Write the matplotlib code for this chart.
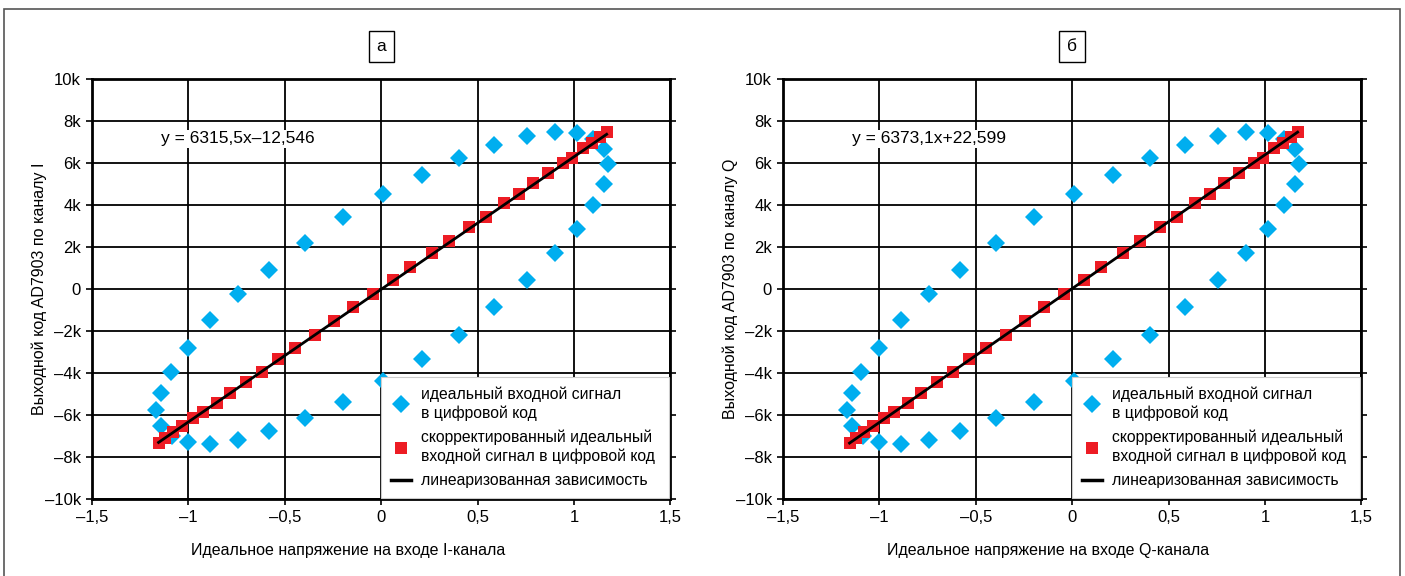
import matplotlib
matplotlib.use("Agg")
import matplotlib.pyplot as plt
from matplotlib.lines import Line2D
from matplotlib.patches import Rectangle

plt.rcParams['font.family'] = ['Liberation Sans', 'DejaVu Sans']

# Data, y in codes
ideal_x = [-1.166, -1.141, -1.093, -1.0, -0.886, -0.743, -0.581, -0.394, -0.197, 0.008,
           0.209, 0.404, 0.587, 0.758, 0.899, 1.014, 1.10, 1.156, 1.176,
           1.156, 1.10, 1.014, 0.899, 0.758, 0.587, 0.404, 0.209, 0.008, -0.197,
           -0.394, -0.581, -0.743, -0.886, -1.0, -1.083, -1.141]
ideal_y = [-5760, -4970, -3950, -2800, -1470, -240, 930, 2190, 3430, 4550,
           5450, 6240, 6880, 7280, 7460, 7420, 7140, 6670, 5970,
           5000, 4000, 2840, 1710, 420, -860, -2200, -3350, -4360, -5370,
           -6160, -6760, -7180, -7370, -7300, -7000, -6510]

corr_x = [-1.155, -1.119, -1.078, -1.031, -0.974, -0.922, -0.85, -0.782, -0.70, -0.618,
          -0.533, -0.446, -0.342, -0.243, -0.145, -0.043, 0.062, 0.150, 0.263, 0.353,
          0.456, 0.542, 0.638, 0.717, 0.788, 0.865, 0.941, 0.988, 1.045, 1.092,
          1.135, 1.169]
corr_y = [-7330, -7100, -6800, -6520, -6140, -5860, -5430, -4950, -4450, -3940,
          -3330, -2800, -2180, -1520, -860, -240, 430, 1050, 1710, 2300,
          2950, 3440, 4100, 4550, 5060, 5540, 6010, 6250, 6700, 6950,
          7250, 7500]

fit_x = [-1.155, 1.169]
fit_slope = {'I': 6315.5, 'Q': 6373.1}
fit_icpt = {'I': -12.546, 'Q': 22.599}

panels = [
    ('а', 'I', 'y = 6315,5x\u201312,546', 'Выходной код AD7903 по каналу I',
     'Идеальное напряжение на входе I-канала', 0.0655, 0.443),
    ('б', 'Q', 'y = 6373,1x+22,599', 'Выходной код AD7903 по каналу Q',
     'Идеальное напряжение на входе Q-канала', 0.5573, 0.458),
]

x_ticks = [-1.5, -1, -0.5, 0, 0.5, 1, 1.5]
x_labels = ['\u20131,5', '\u20131', '\u20130,5', '0', '0,5', '1', '1,5']
y_ticks = list(range(-10000, 10001, 2000))
y_labels = ['\u201310k', '\u20138k', '\u20136k', '\u20134k', '\u20132k', '0',
            '2k', '4k', '6k', '8k', '10k']

C_BLUE = '#00AEEF'
C_RED = '#ED1C24'

fig = plt.figure(figsize=(14.05, 5.76), dpi=100)
fig.patch.set_facecolor('white')

# outer frame
fig.patches.append(Rectangle((4 / 1405, -0.01), 1396 / 1405, 1 - 9 / 576 + 0.01,
                             transform=fig.transFigure, fill=False,
                             edgecolor='#555555', linewidth=1.2))

for tag, ch, eq, ylab, xlab, left, xl_pos in panels:
    ax = fig.add_axes([left, 0.1337, 0.4117, 0.729])
    ax.set_xlim(-1.5, 1.5)
    ax.set_ylim(-10000, 10000)
    ax.set_xticks(x_ticks)
    ax.set_xticklabels(x_labels)
    ax.set_yticks(y_ticks)
    ax.set_yticklabels(y_labels)
    ax.grid(True, color='black', linewidth=1.3)
    ax.set_axisbelow(True)
    for s in ax.spines.values():
        s.set_linewidth(2)
    ax.tick_params(axis='both', labelsize=12, length=4, width=1.2,
                   direction='out', pad=4)
    ax.tick_params(axis='y', right=True)

    ax.plot(ideal_x, ideal_y, linestyle='none', marker='D', markersize=9.5,
            color=C_BLUE, markeredgewidth=0, zorder=3)
    ax.plot(corr_x, corr_y, linestyle='none', marker='s', markersize=8.6,
            color=C_RED, markeredgewidth=0, zorder=4)
    fy = [fit_slope[ch] * x + fit_icpt[ch] for x in fit_x]
    ax.plot(fit_x, fy, color='black', linewidth=2, zorder=5)

    ax.text(-1.14, 7150, eq, fontsize=12.5, va='center', ha='left', zorder=6,
            bbox=dict(boxstyle='square,pad=0.1', fc='white', ec='none'))

    ax.set_ylabel(ylab, fontsize=11.5)
    ax.yaxis.set_label_coords(-0.078, 0.5)
    ax.set_xlabel(xlab, fontsize=11.5)
    ax.xaxis.set_label_coords(xl_pos, -0.105)

    ax.text(0.5, 1.078, tag, transform=ax.transAxes, fontsize=12.5,
            ha='center', va='center',
            bbox=dict(boxstyle='square,pad=0.45', fc='white', ec='black', lw=1))

    handles = [
        Line2D([], [], linestyle='none', marker='D', markersize=9.5, color=C_BLUE,
               markeredgewidth=0),
        Line2D([], [], linestyle='none', marker='s', markersize=8.6, color=C_RED,
               markeredgewidth=0),
        Line2D([], [], color='black', linewidth=2.5),
    ]
    labels = ['идеальный входной сигнал\nв цифровой код',
              'скорректированный идеальный\nвходной сигнал в цифровой код',
              'линеаризованная зависимость']
    leg = ax.legend(handles, labels, loc='lower left',
                    bbox_to_anchor=(0.5, 0.0035, 0.497, 0.3), mode='expand',
                    borderaxespad=0, fontsize=11.3, frameon=True, fancybox=False,
                    handlelength=1.3, handletextpad=0.65, labelspacing=0.55,
                    borderpad=0.6)
    for t in leg.get_texts():
        t.set_linespacing(1.3)
    leg.get_frame().set_edgecolor('#cccccc')
    leg.get_frame().set_linewidth(0.8)
    leg.get_frame().set_alpha(1)
    leg.set_zorder(10)

fig.savefig('out.png', dpi=100)
